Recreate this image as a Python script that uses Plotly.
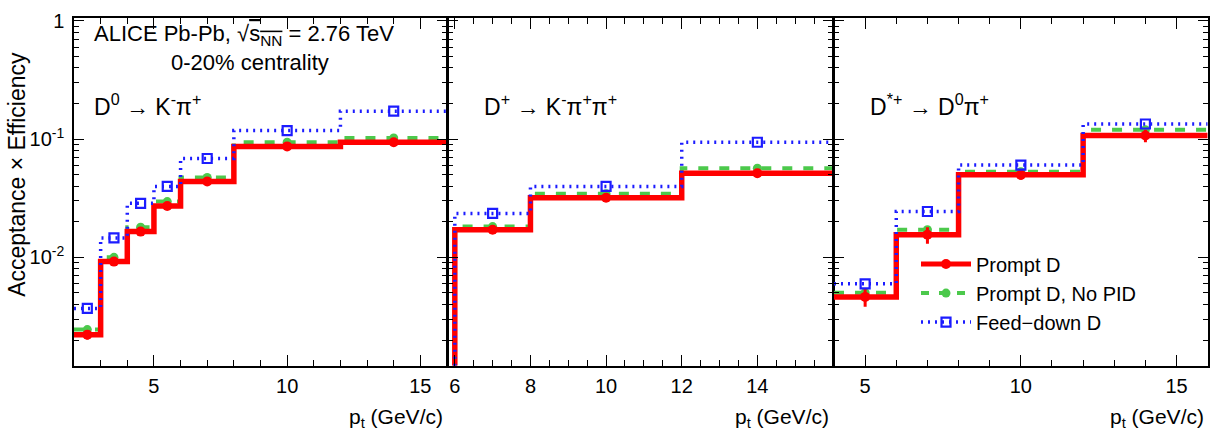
import plotly.graph_objects as go

# ---------------- data ----------------
# D0 -> K- pi+
d0_edges = [2, 3, 4, 5, 6, 8, 12, 16]
d0_prompt = [0.00222, 0.0092, 0.0165, 0.0272, 0.0438, 0.0867, 0.094]
d0_prompt_err = [0.0002, 0.0005, 0.0007, 0.001, 0.0015, 0.003, 0.006]
d0_nopid = [0.00245, 0.0100, 0.0180, 0.0296, 0.0473, 0.094, 0.102]
d0_feed = [0.0037, 0.0146, 0.0286, 0.0398, 0.0685, 0.118, 0.172]

# D+ -> K- pi+ pi+
dp_edges = [6, 8, 12, 16]
dp_prompt = [0.0171, 0.0319, 0.0514]
dp_prompt_err = [0.0006, 0.0009, 0.0016]
dp_nopid = [0.0182, 0.0344, 0.0566]
dp_feed = [0.0235, 0.0398, 0.094]

# D*+ -> D0 pi+
ds_edges = [4, 6, 8, 12, 16]
ds_prompt = [0.00463, 0.0155, 0.0498, 0.107]
ds_prompt_err = [0.0008, 0.0025, 0.0045, 0.013]
ds_nopid = [0.00503, 0.0171, 0.053, 0.120]
ds_feed = [0.00597, 0.0244, 0.0603, 0.134]

# tick labels
d0_xticks = [5, 10, 15]
dp_xticks = [6, 8, 10, 12, 14]
ds_xticks = [5, 10, 15]
y_tickvals = [0.01, 0.1, 1]
y_ticktext = ["10<sup>-2</sup>", "10<sup>-1</sup>", "1"]

panels = [
    dict(edges=d0_edges, prompt=d0_prompt, err=d0_prompt_err, nopid=d0_nopid, feed=d0_feed,
         xrange=[2, 16], label="D<sup>0</sup> → K<sup>-</sup>π<sup>+</sup>",
         xticks=d0_xticks, minor=1, from_bottom=False),
    dict(edges=dp_edges, prompt=dp_prompt, err=dp_prompt_err, nopid=dp_nopid, feed=dp_feed,
         xrange=[5.82, 16], label="D<sup>+</sup> → K<sup>-</sup>π<sup>+</sup>π<sup>+</sup>",
         xticks=dp_xticks, minor=0.5, from_bottom=True),
    dict(edges=ds_edges, prompt=ds_prompt, err=ds_prompt_err, nopid=ds_nopid, feed=ds_feed,
         xrange=[4, 16], label="D<sup>*+</sup> → D<sup>0</sup>π<sup>+</sup>",
         xticks=ds_xticks, minor=1, from_bottom=False),
]

W, H = 1223, 435
FONT = "Liberation Sans, Arial, Helvetica, sans-serif"
px = lambda x: x / W
py = lambda y: 1 - y / H

xdomains = [[px(74), px(447)], [px(448), px(833)], [px(834), px(1207.7)]]
ydomain = [py(364.5), py(10)]
yrange_log = [-2.917, 0.025]
ymin = 10 ** yrange_log[0]

RED = "#ff0000"
GREEN = "#4cc94c"
BLUE = "#1c1cff"

fig = go.Figure()


def step(edges, vals, from_bottom):
    xs = list(edges[:-1]) + [edges[-1]]
    ys = list(vals) + [vals[-1]]
    if from_bottom:
        xs = [edges[0]] + xs
        ys = [ymin] + ys
    return xs, ys


for i, p in enumerate(panels):
    xa = "x" if i == 0 else f"x{i+1}"
    ya = "y" if i == 0 else f"y{i+1}"
    centers = [(a + b) / 2 for a, b in zip(p["edges"][:-1], p["edges"][1:])]
    # green (no PID)
    xs, ys = step(p["edges"], p["nopid"], p["from_bottom"])
    fig.add_trace(go.Scatter(x=xs, y=ys, mode="lines", line=dict(color=GREEN, width=4, dash="10px,11px", shape="hv"),
                             xaxis=xa, yaxis=ya, showlegend=False, hoverinfo="skip"))
    fig.add_trace(go.Scatter(x=centers, y=p["nopid"], mode="markers",
                             marker=dict(color=GREEN, size=9, symbol="circle"),
                             xaxis=xa, yaxis=ya, showlegend=False))
    # red (prompt)
    xs, ys = step(p["edges"], p["prompt"], p["from_bottom"])
    fig.add_trace(go.Scatter(x=xs, y=ys, mode="lines", line=dict(color=RED, width=5.5, shape="hv"),
                             xaxis=xa, yaxis=ya, showlegend=False, hoverinfo="skip"))
    fig.add_trace(go.Scatter(x=centers, y=p["prompt"], mode="markers",
                             marker=dict(color=RED, size=10, symbol="circle"),
                             error_y=dict(type="data", array=p["err"], color=RED, thickness=3, width=0),
                             xaxis=xa, yaxis=ya, showlegend=False))
    # blue (feed-down)
    xs, ys = step(p["edges"], p["feed"], p["from_bottom"])
    fig.add_trace(go.Scatter(x=xs, y=ys, mode="lines", line=dict(color=BLUE, width=3.5, dash="2px,5px", shape="hv"),
                             xaxis=xa, yaxis=ya, showlegend=False, hoverinfo="skip"))
    fig.add_trace(go.Scatter(x=centers, y=p["feed"], mode="markers",
                             marker=dict(color=BLUE, size=9, symbol="square-open", line=dict(width=2.2)),
                             xaxis=xa, yaxis=ya, showlegend=False))

# legend entries
fig.add_trace(go.Scatter(x=[None], y=[None], mode="lines+markers", name="Prompt D",
                         line=dict(color=RED, width=5), marker=dict(color=RED, size=10),
                         xaxis="x3", yaxis="y3"))
fig.add_trace(go.Scatter(x=[None], y=[None], mode="lines+markers", name="Prompt D, No PID",
                         line=dict(color=GREEN, width=4, dash="8px,10px"), marker=dict(color=GREEN, size=9),
                         xaxis="x3", yaxis="y3"))
fig.add_trace(go.Scatter(x=[None], y=[None], mode="lines+markers", name="Feed−down D",
                         line=dict(color=BLUE, width=3.5, dash="2px,5px"),
                         marker=dict(color=BLUE, size=9, symbol="square-open", line=dict(width=2.2)),
                         xaxis="x3", yaxis="y3"))

common_axis = dict(showline=True, linecolor="black", linewidth=1.5, mirror="allticks",
                   ticks="inside", tickcolor="black", tickwidth=1.3, showgrid=False, zeroline=False,
                   tickfont=dict(family=FONT, size=20, color="black"))

layout = dict(width=W, height=H, margin=dict(l=0, r=0, t=0, b=0),
              paper_bgcolor="white", plot_bgcolor="white",
              font=dict(family=FONT, size=20, color="black"))

for i, p in enumerate(panels):
    xk = "xaxis" if i == 0 else f"xaxis{i+1}"
    yk = "yaxis" if i == 0 else f"yaxis{i+1}"
    ya = "y" if i == 0 else f"y{i+1}"
    xa = "x" if i == 0 else f"x{i+1}"
    layout[xk] = dict(common_axis, domain=xdomains[i], range=p["xrange"], anchor=ya,
                      tickmode="array", tickvals=p["xticks"], ticklen=11,
                      minor=dict(ticks="inside", ticklen=6, tickmode="linear", tick0=0, dtick=p["minor"],
                                 tickcolor="black", tickwidth=1.3),
                      ticklabelstandoff=1)
    layout[yk] = dict(common_axis, domain=ydomain, type="log", range=yrange_log, anchor=xa,
                      tickvals=y_tickvals, ticktext=y_ticktext,
                      ticklen=10, showticklabels=(i == 0), ticklabelstandoff=4,
                      minor=dict(ticks="inside", ticklen=5, dtick="D1", tickcolor="black", tickwidth=1.3))

fig.update_layout(**layout)
fig.update_layout(legend=dict(x=px(916), y=py(241), xanchor="left", yanchor="top",
                              bgcolor="rgba(0,0,0,0)", font=dict(family=FONT, size=20, color="black"),
                              itemwidth=50, tracegroupgap=0))

annotations = []
annotations.append(dict(text="ALICE Pb-Pb, √<span style='text-decoration:overline'>s<sub>NN</sub></span> = 2.76 TeV",
                        x=px(92), y=py(28), xref="paper", yref="paper", xanchor="left", yanchor="middle",
                        showarrow=False, font=dict(family=FONT, size=22)))
annotations.append(dict(text="0-20% centrality", x=px(250), y=py(56), xref="paper", yref="paper",
                        xanchor="center", yanchor="middle", showarrow=False, font=dict(family=FONT, size=22)))
label_x = [92, 482, 868]
for i, p in enumerate(panels):
    annotations.append(dict(text=p["label"], x=px(label_x[i]), y=py(99), xref="paper", yref="paper",
                            xanchor="left", yanchor="middle", showarrow=False, font=dict(family=FONT, size=23)))
    annotations.append(dict(text="p<sub>t</sub> (GeV/c)", x=xdomains[i][1] - px(2), y=py(433), xref="paper", yref="paper",
                            xanchor="right", yanchor="bottom", showarrow=False, font=dict(family=FONT, size=21)))
annotations.append(dict(text="Acceptance × Efficiency", x=px(17), y=py(170), xref="paper", yref="paper",
                        xanchor="center", yanchor="middle", textangle=-90, showarrow=False,
                        font=dict(family=FONT, size=23)))
fig.update_layout(annotations=annotations)

fig.write_html("out.html", config={"displayModeBar": False},
               post_script="document.body.style.margin='0';document.body.style.overflow='hidden';")
